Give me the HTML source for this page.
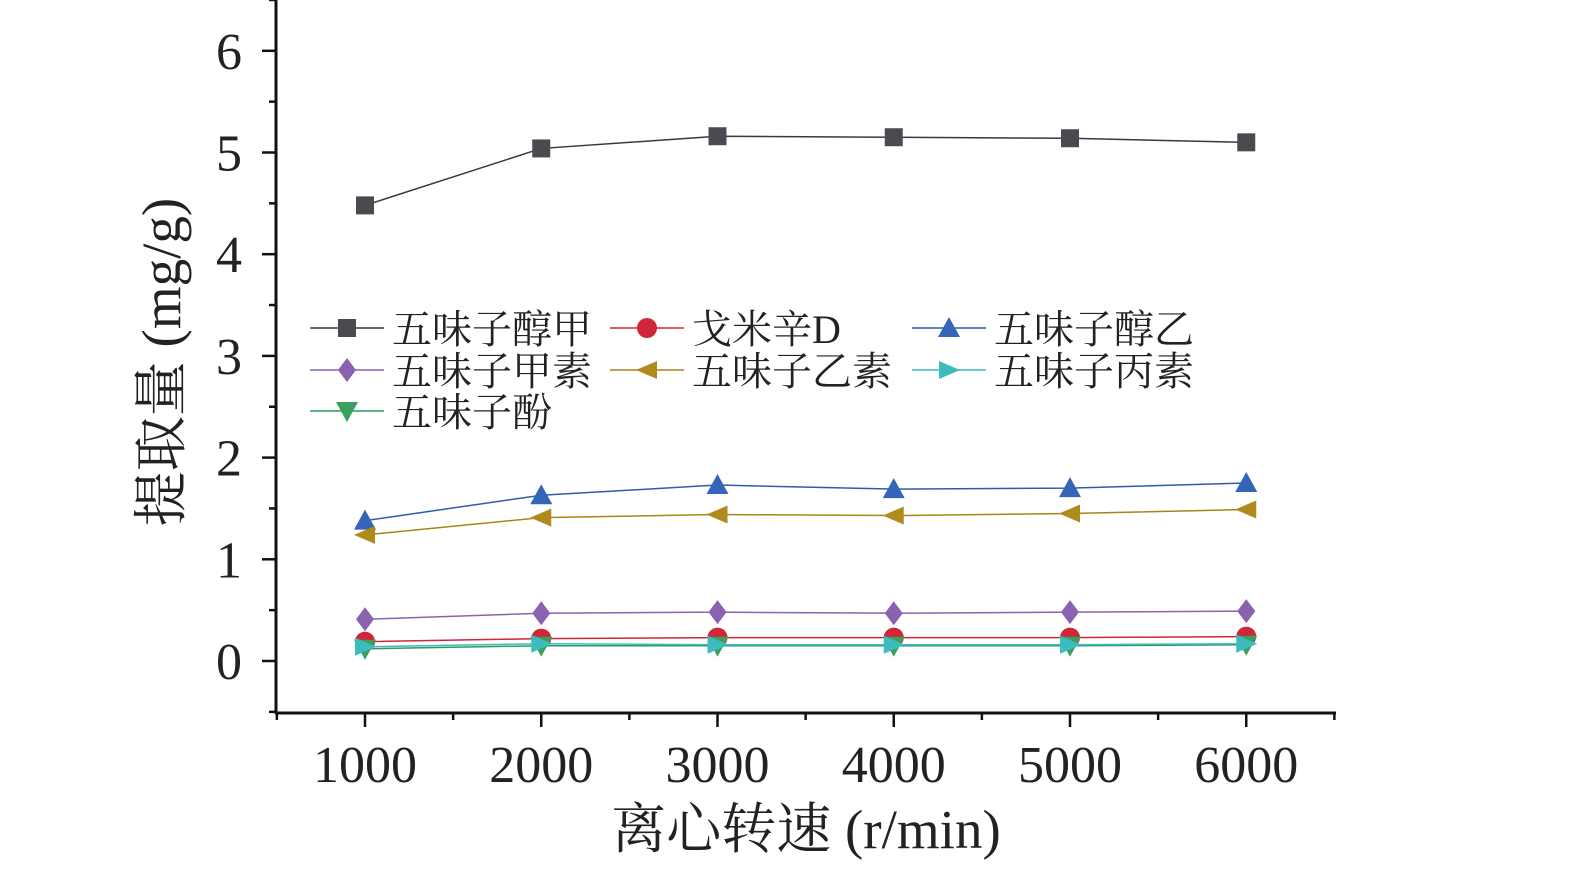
<!DOCTYPE html>
<html><head><meta charset="utf-8"><style>
body{margin:0;background:#fff;}
svg{display:block;font-family:"Liberation Serif","Noto Serif CJK SC",serif;}
</style></head><body>
<svg id="chart" width="1575" height="871" viewBox="0 0 1575 871" xmlns="http://www.w3.org/2000/svg">
<g id="axes"></g>
<g id="series"></g>
<g id="legend"></g>
<text transform="translate(180,362) rotate(-90)" text-anchor="middle" font-size="55" fill="#222">提取量 (mg/g)</text>
<text x="806" y="848" text-anchor="middle" font-size="55" fill="#222">离心转速 (r/min)</text>
</svg>
<script>
const categories=[1000,2000,3000,4000,5000,6000];
const yTicks=[0,1,2,3,4,5,6];
const seriesNames=["五味子醇甲","戈米辛D","五味子醇乙","五味子甲素","五味子乙素","五味子丙素","五味子酚"];
const sA=[4.48,5.04,5.16,5.15,5.14,5.10];
const sGomD=[0.19,0.22,0.23,0.23,0.23,0.24];
const sB=[1.38,1.63,1.73,1.69,1.70,1.75];
const sJia=[0.41,0.47,0.48,0.47,0.48,0.49];
const sYi=[1.24,1.41,1.44,1.43,1.45,1.49];
const sBing=[0.14,0.17,0.16,0.16,0.16,0.17];
const sFen=[0.12,0.15,0.15,0.15,0.15,0.16];
const NS="http://www.w3.org/2000/svg";
const xs=v=>365+(v-1000)*0.17625;
const ys=v=>661-v*101.7;
function mk(t,a,p){const e=document.createElementNS(NS,t);for(const k in a)e.setAttribute(k,a[k]);p.appendChild(e);return e;}
const axes=document.getElementById('axes');
let e=mk('line',{x1:276,y1:0,x2:276,y2:714,stroke:'#111','stroke-width':3},axes);


e=mk('line',{x1:275,y1:713,x2:1336,y2:713,stroke:'#111','stroke-width':3},axes);


for(let v=-0.5;v<=6.5;v+=0.5){const major=Math.abs(v-Math.round(v))<1e-9&&v>=0;
 const t=mk('line',{x1:major?262:269,y1:ys(v),x2:276,y2:ys(v),stroke:'#111','stroke-width':2.5},axes);
 
 }
yTicks.forEach(v=>{const t=mk('text',{x:242,y:ys(v)+18,'text-anchor':'end','font-size':52,fill:'#222'},axes);t.textContent=v;
 
 });
for(let v=500;v<=6500;v+=500){const major=v%1000===0;
 const t=mk('line',{x1:xs(v),y1:713,x2:xs(v),y2:major?727:720,stroke:'#111','stroke-width':2.5},axes);
 
 }
categories.forEach(v=>{const t=mk('text',{x:xs(v),y:782,'text-anchor':'middle','font-size':52,fill:'#222'},axes);t.textContent=v;
 
 });
function marker(type,x,y,c,p){
 const s=9;let pts;
 if(type==='sq')return mk('rect',{x:x-s,y:y-s,width:2*s,height:2*s,fill:c},p);
 if(type==='ci')return mk('circle',{cx:x,cy:y,r:s+1,fill:c},p);
 if(type==='up')pts=[[x,y-s-2],[x+s+2,y+s],[x-s-2,y+s]];
 if(type==='dm')pts=[[x,y-s-3],[x+s,y],[x,y+s+3],[x-s,y]];
 if(type==='lt')pts=[[x-s-2,y],[x+s+1,y-s],[x+s+1,y+s]];
 if(type==='rt')pts=[[x+s+2,y],[x-s-1,y-s],[x-s-1,y+s]];
 if(type==='dn')pts=[[x,y+s+2],[x+s+2,y-s],[x-s-2,y-s]];
 return mk('polygon',{points:pts.map(q=>q.join(',')).join(' '),fill:c},p);}
const defs=[[sA,'#3a3a3e','#4a4a50','sq'],[sGomD,'#d0263a','#d0263a','ci'],[sB,'#2e5cac','#3565b8','up'],[sJia,'#8a62b0','#8a62b0','dm'],[sYi,'#a88418','#b08a1c','lt'],[sBing,'#3cbcbc','#3cbcbc','rt'],[sFen,'#2e9a5a','#3aa060','dn']];
const keys=['wuweizichun-jia','gomisin-d','wuweizichun-yi','wuweizi-jiasu','wuweizi-yisu','wuweizi-bingsu','wuweizi-fen'];
const sg=document.getElementById('series');
const order=[0,2,4,3,1,6,5];
order.forEach(i=>{const [data,lc,mc,m]=defs[i];
 const g=mk('g',{},sg);
 
 
 const l=mk('polyline',{points:data.map((v,j)=>xs(categories[j])+','+ys(v)).join(' '),fill:'none',stroke:lc,'stroke-width':1.5},g);
 
 
 data.forEach((v,j)=>{const mm=marker(m,xs(categories[j]),ys(v),mc,g);
  
  });});
const lg=document.getElementById('legend');
const lpos=[[310,328],[610,328],[912,328],[310,370],[610,370],[912,370],[310,411]];
defs.forEach((d,i)=>{const [x,y]=lpos[i];const g=mk('g',{},lg);
 
 
 mk('line',{x1:x,y1:y,x2:x+74,y2:y,stroke:d[1],'stroke-width':1.5},g);
 marker(d[3],x+37,y,d[2],g);
 const t=mk('text',{x:x+82,y:y+15,'font-size':40,fill:'#222'},g);t.textContent=seriesNames[i];});
</script>
</body></html>
